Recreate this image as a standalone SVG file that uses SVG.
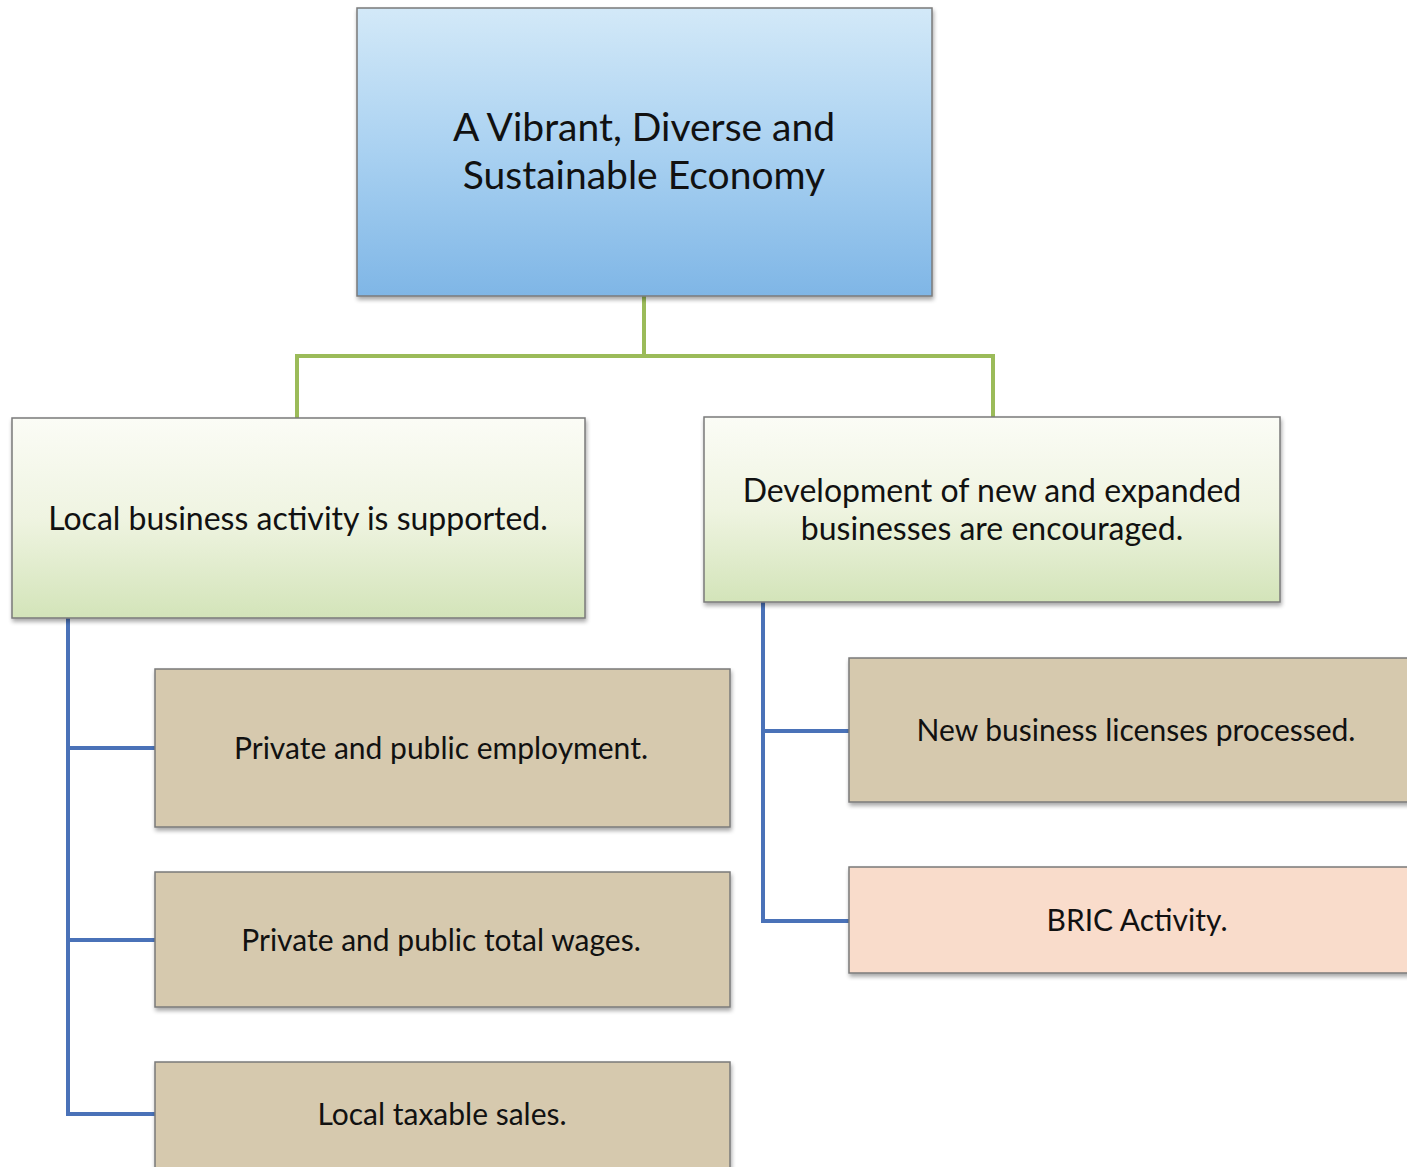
<svg xmlns="http://www.w3.org/2000/svg" width="1407" height="1167" viewBox="0 0 1407 1167">
<defs>
<linearGradient id="gBlue" x1="0" y1="0" x2="0" y2="1">
<stop offset="0" stop-color="#d3e9f8"/>
<stop offset="0.5" stop-color="#a9d1f1"/>
<stop offset="1" stop-color="#7fb6e6"/>
</linearGradient>
<linearGradient id="gGreen" x1="0" y1="0" x2="0" y2="1">
<stop offset="0" stop-color="#fbfcf6"/>
<stop offset="0.5" stop-color="#eff4e1"/>
<stop offset="1" stop-color="#d3e4b9"/>
</linearGradient>
<filter id="sh" x="-5%" y="-5%" width="110%" height="115%">
<feGaussianBlur in="SourceAlpha" stdDeviation="2"/>
<feOffset dx="1" dy="3" result="b"/>
<feComponentTransfer><feFuncA type="linear" slope="0.35"/></feComponentTransfer>
<feMerge><feMergeNode/><feMergeNode in="SourceGraphic"/></feMerge>
</filter>
</defs>
<style>
.box{stroke:#7a7a7a;stroke-width:1.5;filter:url(#sh)}
.tan{fill:#d6c9ae}
.peach{fill:#f9dccb}
.t{font-family:Lato,"Liberation Sans",sans-serif;fill:#111;text-anchor:middle}
.big{font-size:39px}
.mid{font-size:32px}
.sm{font-size:30px}
.cg{fill:none;stroke:#9bbb59;stroke-width:4}
.cb{fill:none;stroke:#4a72b8;stroke-width:4}
</style>
<rect width="1407" height="1167" fill="#fff"/>
<g id="connectors">
<path class="cg" d="M644,296 V356 M297,418 V356 H993 V417"/>
<path class="cb" d="M68,618 V1114 H155 M68,748 H155 M68,940 H155"/>
<path class="cb" d="M763,602 V921 H849 M763,731 H849"/>
</g>
<g id="root">
<rect class="box" x="357" y="8" width="575" height="288" fill="url(#gBlue)"/>
<text class="t big" x="644" y="141">A Vibrant, Diverse and</text>
<text class="t big" x="644" y="189">Sustainable Economy</text>
</g>
<g id="local">
<rect class="box" x="12" y="418" width="573" height="200" fill="url(#gGreen)"/>
<text class="t mid" x="298" y="530">Local business activity is supported.</text>
</g>
<g id="development">
<rect class="box" x="704" y="417" width="576" height="185" fill="url(#gGreen)"/>
<text class="t mid" x="992" y="502">Development of new and expanded</text>
<text class="t mid" x="992" y="540">businesses are encouraged.</text>
</g>
<g id="employment">
<rect class="box tan" x="155" y="669" width="575" height="158"/>
<text class="t sm" x="441" y="759">Private and public employment.</text>
</g>
<g id="wages">
<rect class="box tan" x="155" y="872" width="575" height="135"/>
<text class="t sm" x="441" y="951">Private and public total wages.</text>
</g>
<g id="sales">
<rect class="box tan" x="155" y="1062" width="575" height="120"/>
<text class="t sm" x="442" y="1125">Local taxable sales.</text>
</g>
<g id="licenses">
<rect class="box tan" x="849" y="658" width="570" height="144"/>
<text class="t sm" x="1136" y="741">New business licenses processed.</text>
</g>
<g id="bric">
<rect class="box peach" x="849" y="867" width="570" height="106"/>
<text class="t sm" x="1137" y="931">BRIC Activity.</text>
</g>
</svg>
